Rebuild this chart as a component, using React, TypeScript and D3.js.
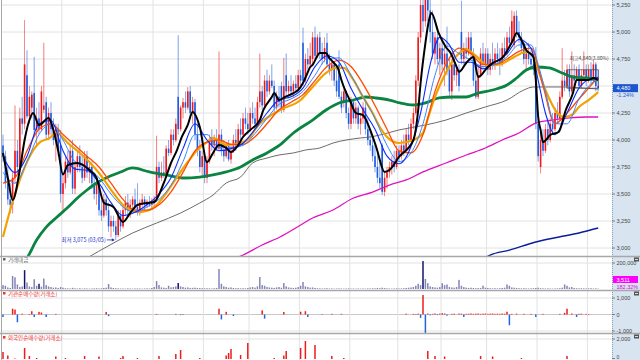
import React from "react";
import * as d3 from "d3";

// ---------- DATA ----------
// candles: [open, high, low, close]
const candles: [number, number, number, number][] = [
[3950,4050,3800,3850],[3850,3900,3550,3600],[3600,3750,3400,3450],[3450,3600,3320,3400],[3400,3700,3320,3650],
[3650,4320,3600,3900],[3900,4000,3700,3750],[3750,4300,3700,4200],[4200,4400,4050,4150],[4150,5110,4100,4700],
[4600,4830,4200,4220],[4220,4500,4150,4400],[4300,4450,4200,4420],[4435,4770,4050,4093],[4093,4300,3950,4200],
[4200,4350,4050,4100],[4100,4500,4080,4450],[4280,4900,4250,4320],[4350,4400,4000,4050],[4050,4300,4000,4250],
[4250,4350,4050,4100],[4100,4200,3950,4000],[4000,4150,3800,4100],[4100,4150,3850,3900],[3950,4093,3420,3500],
[3500,3700,3350,3600],[3600,3850,3550,3800],[3800,3900,3650,3700],[3700,3950,3680,3900],[3900,4000,3500,3550],
[3550,3800,3500,3750],[3750,3900,3700,3850],[3850,3950,3700,3750],[3750,3850,3600,3650],[3650,3900,3620,3850],
[3850,3900,3650,3700],[3700,3800,3600,3750],[3750,3800,3550,3600],[3600,3700,3450,3500],[3500,3650,3400,3600],
[3600,3620,3300,3350],[3350,3450,3250,3300],[3300,3500,3280,3450],[3450,3480,3300,3350],[3350,3420,3150,3200],
[3200,3300,3100,3250],[3250,3300,3150,3200],[3200,3250,3075,3120],[3120,3350,3100,3300],[3300,3350,3150,3200],
[3200,3400,3180,3350],[3350,3480,3300,3420],[3420,3500,3300,3350],[3350,3450,3280,3400],[3400,3480,3350,3450],
[3450,3550,3350,3380],[3380,3600,3300,3350],[3350,3450,3300,3420],[3420,3500,3380,3450],[3450,3480,3350,3400],
[3400,3450,3370,3430],[3430,3480,3380,3400],[3400,3460,3350,3420],[3420,3480,3380,3450],[3450,4040,3430,3750],
[3750,3800,3600,3650],[3650,3800,3620,3700],[3700,3850,3650,3680],[3680,3950,3670,3920],[3920,4000,3850,3880],
[3880,4100,3860,4050],[4050,4100,3950,4000],[4000,4200,3980,4150],[4400,4970,4050,4100],[4100,4320,4080,4300],
[4300,4390,4200,4350],[4350,4450,4250,4300],[4300,4490,4280,4450],[4450,4500,4200,4250],[4250,4400,4150,4350],
[4350,4380,4000,4050],[4050,4150,3850,3900],[3900,4000,3700,3750],[3750,3900,3650,3850],[3850,3900,3600,3650],
[3650,3850,3600,3800],[3800,4050,3780,4000],[4000,4100,3900,3950],[3950,4050,3850,4000],[4000,4100,3900,3920],
[3920,4820,3900,4050],[4050,4100,3850,3900],[3900,4000,3800,3850],[3850,3980,3830,3950],[3950,4000,3800,3820],
[3820,3950,3780,3900],[3900,4050,3880,4000],[4000,4100,3900,3950],[3950,4150,3930,4100],[4100,4200,4000,4050],
[4050,4250,4030,4200],[4200,4300,4100,4150],[4150,4250,4050,4100],[4100,4300,4080,4250],[4250,4350,4150,4200],
[4200,4300,4100,4150],[4150,4400,4130,4350],[4350,4800,4300,4450],[4450,4500,4280,4320],[4320,4600,4300,4550],
[4550,4650,4400,4450],[4450,4600,4420,4550],[4550,4700,4480,4500],[4500,4550,4250,4300],[4300,4450,4280,4400],
[4400,4500,4300,4350],[4500,4540,4250,4280],[4280,4760,4260,4500],[4600,4800,4400,4450],[4450,4550,4400,4500],
[4500,4600,4420,4450],[4450,4550,4400,4520],[4520,4600,4450,4480],[4480,4650,4450,4600],[4600,4650,4500,4550],
[4900,5040,4500,4550],[4550,4800,4530,4750],[4750,4850,4650,4700],[4700,4900,4680,4780],[4750,5000,4700,4950],
[4950,5050,4750,4780],[4780,4980,4760,4950],[4950,5000,4750,4800],[4800,4900,4700,4750],[4750,4950,4720,4850],
[4900,4990,4680,4700],[4700,4800,4600,4650],[4650,4750,4550,4700],[4700,4720,4500,4550],[4550,4700,4400,4450],
[4700,4830,4380,4400],[4400,4450,4250,4300],[4350,4470,4300,4450],[4450,4460,4200,4250],[4250,4300,4100,4150],
[4150,4400,4100,4350],[4350,4380,4150,4200],[4200,4350,4150,4300],[4300,4320,4100,4150],[4150,4250,4050,4200],
[4200,4350,4150,4300],[4300,4350,4050,4100],[4100,4200,3950,4000],[4000,4100,3900,3950],[3950,4050,3800,3850],
[3850,3950,3700,3750],[3750,3900,3600,3650],[3650,3800,3550,3600],[3950,3970,3490,3520],[3520,3700,3480,3650],
[3650,3750,3550,3700],[3700,3800,3650,3750],[3750,3850,3680,3800],[3800,3900,3700,3750],[3750,3950,3730,3900],
[3900,3950,3800,3850],[3850,4000,3820,3950],[3950,4050,3850,3900],[3900,4100,3880,4050],[4050,4150,3950,4000],
[4000,4200,3980,4150],[4150,4300,4100,4250],[4250,4600,4230,4550],[4550,5000,4500,4950],[4950,5300,4900,5250],
[5250,5400,5000,5100],[5100,5400,5050,5350],[5350,5450,5100,5200],[5200,5400,4900,5000],[5000,5200,4750,4800],
[4800,5000,4700,4950],[4950,5050,4700,4750],[4750,4900,4600,4850],[4850,4950,4650,4700],[4700,4900,4500,4800],
[4800,5050,4600,4650],[4650,4750,4400,4450],[4450,4750,4370,4700],[4700,4800,4550,4600],[4600,4700,4500,4650],
[4650,4700,4450,4500],[5000,5290,4700,4750],[4750,4900,4700,4850],[4850,4950,4750,4800],[4800,5000,4780,4950],
[4950,5000,4750,4800],[4800,4850,4500,4550],[4550,4750,4380,4400],[4400,4700,4380,4600],[4600,4850,4580,4800],
[4800,4900,4650,4700],[4700,4850,4680,4800],[4800,4850,4600,4650],[4650,4800,4600,4750],[4750,4900,4650,4700],
[4700,4850,4650,4800],[4800,4900,4700,4750],[4750,4850,4600,4700],[4700,4900,4680,4850],[4850,4950,4750,4800],
[4800,5000,4780,4950],[4950,5050,4850,4900],[4900,5200,4880,5100],[4880,5190,4850,5150],[5150,5200,4950,5000],
[5000,5100,4900,4950],[4950,5000,4800,4850],[4900,4930,4700,4750],[4750,4850,4650,4800],[4800,4900,4700,4750],
[4750,4850,4650,4700],[4700,4800,4600,4650],[4650,4860,4100,4150],[4150,4200,3800,3850],[3750,4090,3690,4000],
[4000,4100,3850,3900],[3900,4150,3880,4100],[4100,4200,3950,4000],[4000,4200,3980,4150],[4150,4250,4050,4100],
[4100,4300,4080,4250],[4250,4350,4150,4200],[4200,4450,4180,4400],[4400,4850,4380,4550],[4550,4650,4450,4500],
[4500,4700,4480,4650],[4650,4700,4400,4450],[4450,4820,4430,4600],[4600,4700,4500,4550],[4550,4680,4530,4650],
[4650,4700,4480,4500],[4500,4650,4480,4600],[4600,4820,4550,4650],[4650,4700,4500,4550],[4550,4700,4530,4650],
[4650,4720,4520,4550],[4550,4750,4530,4700],[4700,4720,4450,4500],[4500,4650,4450,4480]
];

const volume: number[] = [
30000,25000,12000,8000,100000,90000,35000,15000,20000,145000,
50000,20000,15000,75000,25000,40000,18000,80000,30000,20000,
15000,10000,12000,8000,15000,10000,6000,5000,4000,9000,
5000,4000,6000,3000,5000,4000,3000,4000,5000,6000,
4000,5000,8000,10000,38000,12000,8000,6000,5000,4000,
4000,3000,5000,4000,3000,4000,5000,4000,3000,4000,
5000,4000,8000,15000,61000,30000,12000,10000,8000,25000,
12000,15000,20000,46000,20000,15000,10000,12000,8000,9000,
10000,8000,7000,6000,5000,6000,5000,4000,6000,8000,
154000,40000,20000,15000,10000,12000,8000,6000,7000,5000,
6000,5000,8000,12000,15000,10000,20000,92000,30000,25000,
15000,12000,10000,8000,12000,15000,10000,46000,20000,12000,
10000,8000,10000,15000,25000,54000,20000,15000,10000,12000,
8000,6000,5000,4000,5000,6000,4000,5000,3000,4000,
5000,4000,3000,4000,5000,3000,4000,3000,4000,3000,
4000,3000,5000,4000,6000,5000,8000,6000,10000,7000,
5000,4000,3000,4000,5000,4000,5000,6000,8000,10000,
12000,15000,25000,40000,30000,215000,77000,45000,20000,15000,
12000,10000,15000,45000,30000,35000,15000,12000,10000,15000,
70000,25000,15000,10000,8000,10000,8000,6000,7000,8000,
25000,10000,8000,6000,5000,6000,5000,6000,8000,10000,
35000,25000,12000,10000,8000,6000,5000,6000,5000,4000,
5000,6000,8000,10000,6000,5000,4000,5000,4000,3000,
4000,5000,6000,10000,35000,25000,12000,15000,8000,6000,
5000,6000,5000,4000,5000,6000,4000,5000,3000
];
const volumeDark: number[] = [9, 15, 73, 175];

const instNet: number[] = [
-150,0,0,0,350,300,-470,0,50,0,
0,30,200,-150,0,160,120,0,-150,0,
0,0,40,0,0,0,0,0,0,0,
0,0,0,0,0,0,0,0,0,0,
0,0,0,150,-100,0,0,0,0,0,
0,0,0,0,0,0,0,0,0,0,
0,0,0,0,40,0,0,0,0,0,
0,0,40,0,-40,30,0,0,0,0,
0,0,0,0,0,0,0,0,0,0,
350,-300,0,160,0,0,-90,0,0,0,
0,0,0,0,0,0,0,0,250,-250,
0,0,0,0,0,0,0,150,0,0,
0,0,0,0,170,0,200,-150,0,0,
0,0,0,30,0,0,0,40,0,0,
0,40,0,0,0,0,0,0,0,0,
0,0,0,0,0,0,0,0,0,0,
0,0,0,0,0,0,0,0,50,0,
0,40,30,50,-200,1180,-1150,60,-50,40,
60,-40,50,80,60,-70,0,40,50,0,
60,50,-150,40,50,60,40,50,60,40,
50,60,40,50,60,40,50,40,60,50,
170,-650,40,0,50,0,0,40,0,0,
40,0,-150,0,0,40,0,0,0,0,
0,0,40,0,100,350,0,60,0,-150,
40,50,0,40,30,0,0,0,0
];

const foreignNet: number[] = [
700,0,350,0,0,50,0,0,0,1100,
0,300,0,0,100,0,0,0,0,0,
0,0,250,0,0,0,100,0,0,0,
0,0,0,0,300,0,0,0,0,0,
250,0,0,0,0,0,0,0,0,100,
300,0,0,0,0,0,100,0,0,0,
0,0,0,0,0,300,0,0,0,0,
0,0,500,0,900,0,0,0,0,0,
0,0,100,0,0,0,0,0,0,0,
0,0,0,350,600,1000,0,0,0,400,
0,0,1600,0,0,0,0,0,0,0,
0,0,0,100,0,0,0,350,800,0,
0,0,0,0,1100,0,1800,0,0,0,
1400,0,0,0,0,0,0,300,0,0,
0,0,100,0,0,0,0,0,0,0,
0,0,0,0,0,0,0,0,0,0,
0,0,0,0,0,0,0,0,0,0,
0,0,0,0,0,0,0,800,0,0,
300,0,0,0,250,0,0,0,0,0,
0,0,0,0,0,0,0,0,0,300,
0,0,0,0,250,0,0,0,0,0,
0,0,0,0,0,0,100,0,0,0,
0,0,0,0,0,0,0,0,0,0,
0,0,0,0,0,300,0,0,0,0,
0,0,0,0,0,0,0,0,0
];

// moving-average lines: [candle index, price]
const ma5: [number, number][] = [
[0,3880],[2,3650],[4,3444],[7,3722],[9,4000],[11,4185],[12.5,4250],[15,4139],[19,4204],[21,4093],[23,3900],[25,3680],
[27,3768],[31,3787],[36,3722],[39,3648],[42,3420],[46,3380],[50,3241],[53,3324],[56,3398],[60,3417],[63,3426],[67,3602],
[70,3787],[72.5,3907],[74.5,4028],[77,4139],[79,4259],[82,4120],[85,3796],[87.5,3880],[90,3954],[93,3926],[95,3889],
[98,3954],[100,4028],[103,4093],[107,4185],[108.5,4278],[112,4398],[113,4435],[115,4370],[117.5,4398],[121,4435],
[123,4463],[125,4528],[126.5,4602],[128,4676],[129,4695],[130.5,4759],[132,4806],[134.5,4806],[136,4759],[137.5,4722],
[139.5,4667],[141,4556],[142.5,4463],[144.5,4370],[147,4250],[150,4231],[153,4093],[155.5,3935],[159,3704],[161,3722],
[165,3843],[171,4000],[173,4278],[174,4528],[176,4898],[177.5,5111],[178.5,5176],[181.5,4991],[184.5,4861],[186.5,4806],
[189,4676],[190,4630],[193,4713],[196,4769],[198,4583],[202,4676],[204,4713],[208,4759],[212.5,4926],[214,4991],
[216,4926],[218,4833],[221,4769],[222,4556],[223,4213],[224,4093],[225,3981],[228,4046],[231.5,4074],[234.5,4278],
[237.5,4435],[239,4556],[242,4556],[244,4556],[246,4574],[248,4556]
];
const ma10: [number, number][] = [
[0,3850],[5,3700],[10,3850],[15,4150],[20,4180],[25,3900],[30,3730],[35,3720],[40,3600],[45,3420],[50,3300],[55,3330],
[60,3400],[65,3500],[70,3650],[75,3920],[80,4150],[85,4000],[90,3900],[95,3920],[100,3970],[105,4100],[110,4250],
[115,4370],[120,4400],[125,4480],[130,4680],[135,4780],[140,4720],[145,4480],[150,4280],[155,4100],[160,3850],
[165,3780],[170,3940],[174,4250],[178,4700],[182,4950],[186,4880],[190,4720],[195,4720],[200,4660],[205,4720],
[210,4800],[215,4930],[220,4850],[223,4550],[226,4250],[230,4050],[235,4250],[240,4480],[244,4560],[248,4580]
];
const ma20: [number, number][] = [
[0,3700],[5,3600],[10,3800],[15,4050],[20,4150],[25,4000],[30,3800],[35,3750],[40,3650],[45,3500],[50,3380],[55,3330],
[60,3380],[65,3450],[70,3580],[75,3800],[80,4050],[85,4050],[90,3930],[95,3930],[100,3950],[105,4060],[110,4200],
[115,4330],[120,4380],[125,4450],[130,4600],[135,4750],[140,4760],[145,4600],[150,4400],[155,4200],[160,3950],
[165,3800],[170,3880],[175,4150],[180,4600],[185,4870],[190,4800],[195,4740],[200,4680],[205,4700],[210,4770],
[215,4880],[220,4880],[223,4700],[226,4450],[230,4150],[235,4150],[240,4380],[244,4500],[248,4570]
];
const ma40: [number, number][] = [
[0,3600],[5,3650],[10,3900],[15,4100],[20,4150],[25,4050],[30,3950],[35,3850],[40,3750],[45,3600],[50,3450],[55,3350],
[60,3350],[65,3400],[70,3520],[75,3700],[80,3900],[85,3980],[90,4000],[95,3960],[100,3960],[105,4030],[110,4150],
[115,4280],[120,4350],[125,4420],[130,4550],[135,4680],[140,4740],[145,4680],[150,4520],[155,4320],[160,4100],
[165,3900],[170,3880],[175,4050],[180,4450],[185,4720],[190,4850],[195,4800],[200,4700],[205,4700],[210,4750],
[215,4820],[220,4850],[225,4500],[230,4150],[235,4250],[240,4380],[244,4480],[248,4580]
];
const ma60: [number, number][] = [
[0,3102],[3,3352],[7,3630],[11,3843],[15,3972],[20,4028],[22,4074],[27,3972],[32,3880],[36,3796],[40,3694],[46,3509],
[50,3398],[53,3352],[57,3333],[61,3352],[64,3398],[68,3509],[72.5,3657],[77,3796],[81,3907],[85,3981],[87.5,4019],
[93,3954],[99,3972],[103,4028],[105.5,4111],[115.5,4278],[124,4370],[129,4491],[134.5,4620],[139,4667],[142,4667],
[146,4556],[150,4398],[154,4250],[157,4120],[160,4028],[165,3972],[171,4000],[175,4065],[177,4200],[180,4400],
[184,4600],[189,4780],[193,4840],[197,4780],[202,4690],[207,4700],[213,4769],[218,4815],[221,4769],[223,4648],
[226,4463],[228.5,4343],[231,4250],[234,4213],[237,4231],[240,4306],[244,4370],[248,4444]
];
const ma120: [number, number][] = [
[8,2850],[10,2907],[14,3074],[18,3194],[22.5,3287],[26.7,3370],[31,3463],[35,3537],[39,3602],[44,3660],[49,3704],
[54,3741],[61,3704],[68,3676],[75,3648],[82,3657],[87.5,3676],[93,3704],[99,3750],[104,3815],[110,3880],[115.4,3954],
[121,4065],[129,4185],[134.6,4278],[140,4343],[146,4370],[151,4398],[155.4,4389],[161,4370],[165.4,4343],[171,4324],
[176,4343],[181.7,4389],[187.5,4398],[193,4398],[198,4435],[204,4463],[210,4509],[214,4574],[218,4648],[222,4676],
[227.5,4667],[233,4620],[237.5,4583],[243,4574],[248,4556]
];
const ma240: [number, number][] = [
[33,2880],[35,2907],[44.6,3028],[54,3139],[64,3231],[74,3324],[82,3417],[87.5,3490],[93,3602],[99,3657],[104,3787],
[110,3833],[115,3861],[121,3880],[126,3907],[132,3926],[137.5,3972],[143,4000],[149,4019],[153,4028],[157,4046],
[165,4093],[176,4139],[184.6,4185],[193,4250],[201,4306],[210,4370],[217,4463],[221,4491],[226,4491],[234.6,4491],
[241.7,4481],[248,4472]
];
const ma480: [number, number][] = [
[94,2880],[100,2935],[108,3028],[115.4,3102],[124,3213],[129,3278],[137.5,3352],[146,3463],[154,3518],[161,3583],
[168,3630],[175,3704],[184.6,3787],[193,3861],[201,3926],[208,4000],[215,4065],[222,4157],[229,4185],[236,4204],
[243,4213],[248,4213]
];
const ma960: [number, number][] = [
[200,2900],[203,2935],[211,2981],[222,3056],[231.7,3102],[240,3139],[248,3185]
];

const priceTicks = [3000, 3250, 3500, 3750, 4000, 4250, 4500, 4750, 5000, 5250];
const priceTickLabels = ["3,000","3,250","3,500","3,750","4,000","4,250","4,500","4,750","5,000","5,250"];
const monthStarts = [25, 42, 63, 84, 103, 124, 145, 165, 183, 202, 223, 244];
const lowIndex = 47;
const lowPrice = 3075;
const lowLabel = "최저 3,075 (03/05)";
const highLabel = "최고4,840(3.80%)";
const lastPrice = 4480;
const lastChange = "-1.24%";
const volLast = "3,511";
const volChange = "182.32%";

// ---------- CHART ----------
const FONT = "'Liberation Sans', Arial, sans-serif";
const KFONT = "'Noto Sans CJK KR', sans-serif";
const UP = "#f01818";
const DOWN = "#1d5ce0";

export default function App() {
  const x = d3.scaleLinear().domain([0, 248]).range([3, 598.2]);
  const y = d3.scaleLinear().domain([3000, 5250]).range([248, 5]);
  const yVol = d3.scaleLinear().domain([0, 200000]).range([289, 263]);
  const yInst = d3.scaleLinear().domain([-1000, 1000]).range([331, 298]);
  const yFor = d3.scaleLinear().domain([0, 2000]).range([359, 339]);

  const line = d3
    .line<[number, number]>()
    .x((d) => x(d[0]))
    .y((d) => y(d[1]))
    .curve(d3.curveMonotoneX);

  const gridColor = "#e2e2e2";
  const sep = "#a8a8a8";
  const axisX = 612;
  const fmt = d3.format(",");

  const lines: { d: [number, number][]; c: string; w: number }[] = [
    { d: ma960, c: "#0a1c9c", w: 1.4 },
    { d: ma480, c: "#e012c0", w: 1.3 },
    { d: ma240, c: "#5a5a5a", w: 0.9 },
    { d: ma120, c: "#0b8442", w: 2.8 },
    { d: ma60, c: "#f2a200", w: 2.2 },
    { d: ma40, c: "#ff4a00", w: 1.3 },
    { d: ma20, c: "#3a86ff", w: 1.0 },
    { d: ma10, c: "#0a2cff", w: 1.1 },
    { d: ma5, c: "#000000", w: 2.0 },
  ];

  return (
    <svg
      width={640}
      height={360}
      style={{ position: "fixed", left: 0, top: 0, background: "#fff" }}
      fontFamily={FONT}
    >
      <defs>
        <clipPath id="mainClip">
          <rect x={2} y={0} width={axisX - 2} height={256} />
        </clipPath>
        <clipPath id="instClip">
          <rect x={2} y={291} width={axisX - 2} height={42} />
        </clipPath>
        <clipPath id="forClip">
          <rect x={2} y={334} width={axisX - 2} height={26} />
        </clipPath>
      </defs>
      <rect x={0} y={0} width={640} height={360} fill="#fff" />

      {priceTicks.map((p) => (
        <line key={"hg" + p} x1={2} x2={axisX} y1={y(p)} y2={y(p)} stroke={gridColor} strokeWidth={1} />
      ))}
      {[yVol(200000), yInst(1000), yInst(-1000), yFor(2000)].map((v, i) => (
        <line key={"sg" + i} x1={2} x2={axisX} y1={v} y2={v} stroke={gridColor} strokeWidth={1} />
      ))}
      <line x1={2} x2={axisX} y1={yInst(0)} y2={yInst(0)} stroke="#c8c8c8" strokeWidth={1} />
      {monthStarts.map((m) => (
        <line key={"vg" + m} x1={x(m) - 1.2} x2={x(m) - 1.2} y1={0} y2={360} stroke={gridColor} strokeWidth={1} />
      ))}

      <g clipPath="url(#mainClip)">
        {candles.map((c, i) => {
          const [o, h, l, cl] = c;
          const col = cl >= o ? UP : DOWN;
          const cx = x(i);
          const top = y(Math.max(o, cl));
          const bot = y(Math.min(o, cl));
          return (
            <g key={"c" + i}>
              <line x1={cx} x2={cx} y1={y(h)} y2={y(l)} stroke={col} strokeWidth={0.8} opacity={0.7} />
              <rect x={cx - 0.8} y={top} width={1.6} height={Math.max(1, bot - top)} fill={col} />
            </g>
          );
        })}
        {lines.map((L, i) => (
          <path key={"l" + i} d={line(L.d) || ""} fill="none" stroke={L.c} strokeWidth={L.w} strokeLinejoin="round" />
        ))}
        <rect x={x(235)} y={y(4650)} width={x(248) - x(235)} height={y(lastPrice) - y(4650)} fill="none" stroke="#444" strokeWidth={0.7} />
      </g>

      <text x={x(lowIndex) - 10} y={y(lowPrice) + 2} fontSize={5.5} fill="#2233cc" textAnchor="end" fontFamily={KFONT}>
        {lowLabel}
      </text>
      <line x1={x(lowIndex) - 9} x2={x(lowIndex) - 2} y1={y(lowPrice)} y2={y(lowPrice)} stroke="#2233cc" strokeWidth={0.8} />
      <path d={`M${x(lowIndex) - 1},${y(lowPrice)} l-3,-1.6 l0,3.2 z`} fill="#2233cc" />

      <text x={x(236)} y={y(4750) + 1} fontSize={5} fill="#444" fontFamily={KFONT}>
        {highLabel}
      </text>

      {volume.map((v, i) => (
        <rect
          key={"v" + i}
          x={x(i) - 0.75}
          y={yVol(v)}
          width={1.5}
          height={yVol(0) - yVol(v)}
          fill={volumeDark.includes(i) ? "#14146e" : "#8585b5"}
        />
      ))}

      <g clipPath="url(#instClip)">
        {instNet.map((v, i) =>
          v === 0 ? null : (
            <rect
              key={"in" + i}
              x={x(i) - 0.75}
              y={Math.min(yInst(v), yInst(0))}
              width={1.5}
              height={Math.abs(yInst(v) - yInst(0))}
              fill={v > 0 ? "#ee1c1c" : "#1f64e0"}
            />
          )
        )}
      </g>
      <g clipPath="url(#forClip)">
        {foreignNet.map((v, i) =>
          v === 0 ? null : (
            <rect
              key={"fo" + i}
              x={x(i) - 0.75}
              y={Math.min(yFor(v), yFor(0))}
              width={1.5}
              height={Math.abs(yFor(v) - yFor(0))}
              fill={v > 0 ? "#ee1c1c" : "#1f64e0"}
            />
          )
        )}
      </g>

      <rect x={3} y={258} width={2.5} height={2.5} fill="#666" />
      <text x={8} y={261.5} fontSize={5.5} fill="#666" fontFamily={KFONT}>거래대금</text>
      <rect x={3} y={292} width={2.5} height={2.5} fill="#e33" />
      <text x={8} y={295.5} fontSize={5.5} fill="#e33" fontFamily={KFONT}>기관순매수량(거래소)</text>
      <rect x={3} y={336} width={2.5} height={2.5} fill="#e33" />
      <text x={8} y={339.5} fontSize={5.5} fill="#e33" fontFamily={KFONT}>외국인순매수량(거래소)</text>

      <line x1={0} x2={640} y1={256.5} y2={256.5} stroke={sep} strokeWidth={1.5} />
      <line x1={0} x2={640} y1={290.5} y2={290.5} stroke={sep} strokeWidth={1.5} />
      <line x1={0} x2={640} y1={333.5} y2={333.5} stroke={sep} strokeWidth={1.5} />
      <line x1={1.5} x2={1.5} y1={0} y2={360} stroke={sep} strokeWidth={1} />

      <rect x={axisX} y={0} width={640 - axisX} height={360} fill="#d8e4f0" />
      <line x1={axisX + 0.5} x2={axisX + 0.5} y1={0} y2={360} stroke="#8aa0b8" strokeWidth={1} strokeDasharray="1,1" />
      <line x1={axisX} x2={640} y1={256.5} y2={256.5} stroke={sep} strokeWidth={1.5} />
      <line x1={axisX} x2={640} y1={290.5} y2={290.5} stroke={sep} strokeWidth={1.5} />
      <line x1={axisX} x2={640} y1={333.5} y2={333.5} stroke={sep} strokeWidth={1.5} />

      {priceTicks.map((p, i) =>
        p === 4500 ? null : (
          <g key={"pt" + p}>
            <line x1={axisX} x2={axisX + 3} y1={y(p)} y2={y(p)} stroke="#666" strokeWidth={0.8} />
            <text x={axisX + 4.5} y={y(p) + 2} fontSize={5.5} fill="#444">
              {priceTickLabels[i]}
            </text>
          </g>
        )
      )}
      <rect x={axisX + 1} y={y(lastPrice) - 4} width={25} height={8} fill="#1b56cf" />
      <text x={axisX + 4.5} y={y(lastPrice) + 2} fontSize={5.5} fill="#fff">{fmt(lastPrice)}</text>
      <text x={axisX + 4.5} y={y(lastPrice) + 9} fontSize={5.5} fill="#2a5ad8">{lastChange}</text>

      <line x1={axisX} x2={axisX + 3} y1={yVol(200000)} y2={yVol(200000)} stroke="#666" strokeWidth={0.8} />
      <text x={axisX + 4.5} y={yVol(200000) + 2} fontSize={5.5} fill="#444">200,000</text>
      <rect x={axisX + 1} y={276} width={25} height={7} fill="#ff00ff" />
      <text x={axisX + 4.5} y={281.5} fontSize={5.5} fill="#fff">{volLast}</text>
      <text x={axisX + 4.5} y={288.5} fontSize={5.5} fill="#e000e0">{volChange}</text>

      {[1000, 0, -1000].map((v) => (
        <g key={"ia" + v}>
          <line x1={axisX} x2={axisX + 3} y1={yInst(v)} y2={yInst(v)} stroke="#666" strokeWidth={0.8} />
          <text x={axisX + 4.5} y={yInst(v) + 2} fontSize={5.5} fill="#444">
            {fmt(v).replace("−", "-")}
          </text>
        </g>
      ))}
      <line x1={axisX} x2={axisX + 3} y1={yFor(2000)} y2={yFor(2000)} stroke="#666" strokeWidth={0.8} />
      <text x={axisX + 4.5} y={yFor(2000) + 2} fontSize={5.5} fill="#444">{fmt(2000)}</text>
      <line x1={axisX} x2={axisX + 3} y1={yFor(0) - 0.5} y2={yFor(0) - 0.5} stroke="#666" strokeWidth={0.8} />
      <text x={axisX + 4.5} y={358.5} fontSize={5} fill="#444">{fmt(0)}</text>

      {[257.5, 291.5, 334.5].map((yy, i) => (
        <g key={"ic" + i}>
          <rect x={634} y={yy} width={5} height={4} fill="#555" />
          <line x1={635} x2={638} y1={yy + 2} y2={yy + 2} stroke="#fff" strokeWidth={0.8} />
        </g>
      ))}
    </svg>
  );
}
